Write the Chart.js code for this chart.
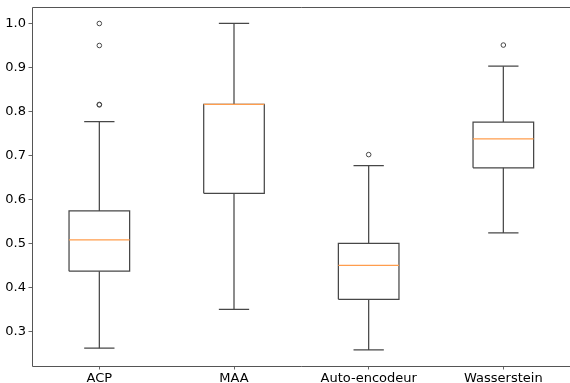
<!DOCTYPE html>
<html>
<head>
<meta charset="utf-8">
<script src="https://cdn.jsdelivr.net/npm/chart.js@4.4.1/dist/chart.umd.min.js"></script>
<style>
  html, body { margin: 0; padding: 0; overflow: hidden; background: #fff; }
  #c { width: 570px; height: 383px; display: block; }
</style>
</head>
<body>
<canvas id="c" width="570" height="383"></canvas>
<script>
// ---- data ----
const categories   = ['ACP', 'MAA', 'Auto-encodeur', 'Wasserstein'];
const whiskerLow   = [0.262, 0.350, 0.258, 0.524];
const quartile1    = [0.437, 0.614, 0.373, 0.672];
const medians      = [0.508, 0.816, 0.450, 0.738];
const quartile3    = [0.574, 0.816, 0.500, 0.776];
const whiskerHigh  = [0.777, 1.000, 0.677, 0.903];
const outliers     = [[1.000, 0.950, 0.816, 0.815], [], [0.702], [0.951]];
const yTicks       = [0.3, 0.4, 0.5, 0.6, 0.7, 0.8, 0.9, 1.0];

// ---- styling constants ----
const LINE = '#474747';
const MEDIAN = '#ff9d4d';
const BOX_HALF = 0.225;
const CAP_HALF = 0.1125;

function seg(points, color) {
  return {
    type: 'line', data: points, borderColor: color, borderWidth: 1.25,
    pointRadius: 0, pointHoverRadius: 0, fill: false, tension: 0, order: 2
  };
}

const datasets = [];
categories.forEach((c, i) => {
  const x = i + 1;
  datasets.push(seg([{x: x, y: quartile3[i]}, {x: x, y: whiskerHigh[i]}], LINE));
  datasets.push(seg([{x: x, y: quartile1[i]}, {x: x, y: whiskerLow[i]}], LINE));
  datasets.push(seg([{x: x - CAP_HALF, y: whiskerHigh[i]}, {x: x + CAP_HALF, y: whiskerHigh[i]}], LINE));
  datasets.push(seg([{x: x - CAP_HALF, y: whiskerLow[i]}, {x: x + CAP_HALF, y: whiskerLow[i]}], LINE));
  datasets.push(seg([
    {x: x - BOX_HALF, y: quartile1[i]}, {x: x + BOX_HALF, y: quartile1[i]},
    {x: x + BOX_HALF, y: quartile3[i]}, {x: x - BOX_HALF, y: quartile3[i]},
    {x: x - BOX_HALF, y: quartile1[i]}
  ], LINE));
  const m = seg([{x: x - BOX_HALF, y: medians[i]}, {x: x + BOX_HALF, y: medians[i]}], MEDIAN);
  m.order = 1;
  datasets.push(m);
});
const outPts = [];
outliers.forEach((arr, i) => arr.forEach(v => outPts.push({x: i + 1, y: v})));
datasets.push({
  type: 'scatter', data: outPts, pointStyle: 'circle', pointRadius: 2.3,
  pointBorderWidth: 1, pointBackgroundColor: 'rgba(255,255,255,0)', pointBorderColor: LINE,
  pointHoverRadius: 2.3, order: 0
});

// spines: top, left, bottom (right spine lies just outside the cropped picture)
const frame = {
  id: 'frame',
  afterDatasetsDraw(chart) {
    const a = chart.chartArea, ctx = chart.ctx;
    const l = Math.round(a.left) + 0.5, t = Math.round(a.top) + 0.5, b = Math.round(a.bottom) + 0.5;
    ctx.save();
    ctx.strokeStyle = '#555';
    ctx.lineWidth = 1;
    ctx.beginPath();
    ctx.moveTo(chart.width, t); ctx.lineTo(l, t); ctx.lineTo(l, b); ctx.lineTo(chart.width, b);
    ctx.stroke();
    ctx.restore();
  }
};

Chart.defaults.font.family = '"DejaVu Sans", sans-serif';
Chart.defaults.font.size = 13;
Chart.defaults.color = '#000';

new Chart(document.getElementById('c'), {
  type: 'line',
  data: { datasets },
  options: {
    responsive: false,
    animation: false,
    events: [],
    layout: { padding: { top: 7, right: 0, left: 0, bottom: 0 } },
    plugins: { legend: { display: false }, tooltip: { enabled: false } },
    scales: {
      x: {
        type: 'linear', min: 0.5, max: 4.4705,
        border: { display: false },
        grid: { drawOnChartArea: false, drawTicks: true, tickLength: 3.5, color: '#666' },
        ticks: { padding: 1.5, maxRotation: 0, autoSkip: false, callback: v => categories[v - 1] || '' },
        afterBuildTicks: s => { s.ticks = categories.map((c, i) => ({ value: i + 1 })); },
        afterFit: s => { s.height = 17; s.paddingLeft = 0; s.paddingRight = 0; }
      },
      y: {
        type: 'linear', min: 0.2215, max: 1.0375,
        border: { display: false },
        grid: { drawOnChartArea: false, drawTicks: true, tickLength: 3.5, color: '#666' },
        ticks: { padding: 2.5, callback: v => Number(v).toFixed(1) },
        afterBuildTicks: s => { s.ticks = yTicks.map(v => ({ value: v })); },
        afterFit: s => { s.width = 32; s.paddingTop = 0; s.paddingBottom = 0; }
      }
    }
  },
  plugins: [frame]
});
</script>
</body>
</html>
